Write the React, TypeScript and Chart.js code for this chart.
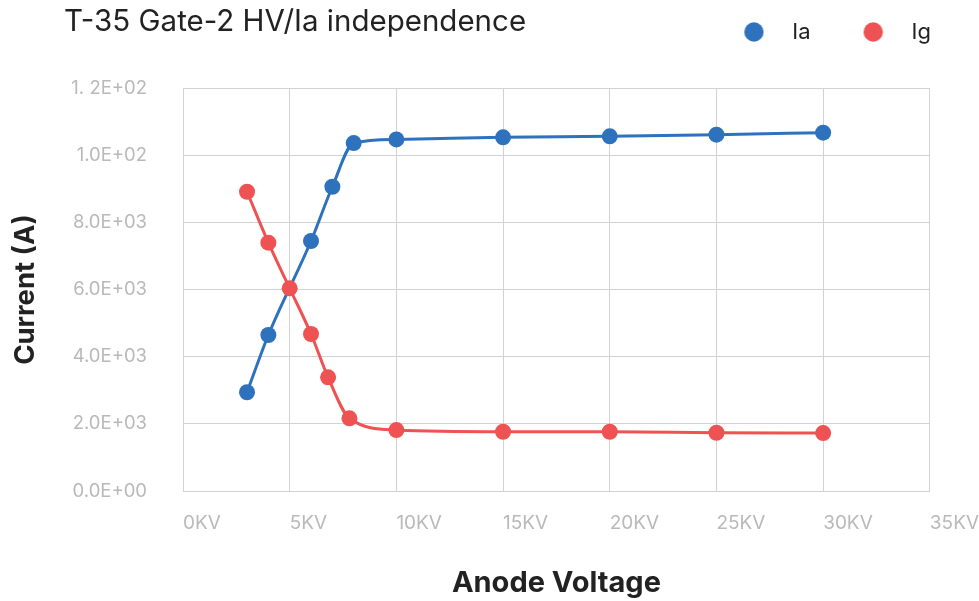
import React, { useEffect, useRef } from 'react';
import { Chart, registerables } from 'chart.js';

Chart.register(...registerables);

const chartTitle = 'T-35 Gate-2 HV/Ia independence';
const seriesNames = ['Ia', 'Ig'];
const iaVoltage = [3, 4, 6, 7, 8, 10, 15, 20, 25, 30];
const iaCurrent = [2940, 4645, 7445, 9060, 10360, 10470, 10530, 10560, 10610, 10670];
const igVoltage = [3, 4, 5, 6, 6.8, 7.8, 10, 15, 20, 25, 30];
const igCurrent = [8910, 7395, 6035, 4675, 3385, 2165, 1815, 1765, 1765, 1735, 1725];
const xTickLabels = ['0KV', '5KV', '10KV', '15KV', '20KV', '25KV', '30KV', '35KV'];
const yTickLabels = ['0.0E+00', '2.0E+03', '4.0E+03', '6.0E+03', '8.0E+03', '1.0E+02', '1. 2E+02'];
const xAxisTitle = 'Anode Voltage';
const yAxisTitle = 'Current (A)';

const BLUE = '#2e72bd';
const RED = '#ef5252';
const GRID = '#d2d2d2';
const TICK = '#b9b9b9';
const TEXT = '#222222';
const FONT = 'Inter';

function makeLegendDot(color: string): HTMLCanvasElement {
  const c = document.createElement('canvas');
  c.width = 46;
  c.height = 22;
  const ctx = c.getContext('2d')!;
  ctx.fillStyle = color;
  ctx.beginPath();
  ctx.arc(35.6, 11, 9.7, 0, Math.PI * 2);
  ctx.fill();
  return c;
}

export default function App() {
  const canvasRef = useRef<HTMLCanvasElement | null>(null);

  useEffect(() => {
    document.body.style.margin = '0';
    const canvas = canvasRef.current;
    if (!canvas) return;

    const dots = [makeLegendDot(BLUE), makeLegendDot(RED)];

    const legendHeightPlugin = {
      id: 'legendHeight',
      beforeInit(chart: any) {
        const legend = chart.legend;
        if (!legend) return;
        const orig = legend.fit;
        legend.fit = function () {
          orig.call(this);
          this.height = 77;
        };
      },
    };

    const titlePlugin = {
      id: 'leftTitle',
      afterDraw(chart: any) {
        const ctx = chart.ctx;
        ctx.save();
        ctx.font = `29.5px ${FONT}`;
        ctx.fillStyle = TEXT;
        ctx.textAlign = 'left';
        ctx.textBaseline = 'alphabetic';
        ctx.fillText(chartTitle, 64, 31);
        ctx.restore();
      },
    };

    const chart = new Chart(canvas, {
      type: 'line',
      data: {
        datasets: [
          {
            label: seriesNames[0],
            data: iaVoltage.map((x, i) => ({ x, y: iaCurrent[i] })),
            borderColor: BLUE,
            backgroundColor: BLUE,
            borderWidth: 3,
            pointRadius: 8,
            pointHoverRadius: 8,
            pointBorderWidth: 0,
            cubicInterpolationMode: 'monotone',
            order: 2,
          },
          {
            label: seriesNames[1],
            data: igVoltage.map((x, i) => ({ x, y: igCurrent[i] })),
            borderColor: RED,
            backgroundColor: RED,
            borderWidth: 3,
            pointRadius: 8,
            pointHoverRadius: 8,
            pointBorderWidth: 0,
            cubicInterpolationMode: 'monotone',
            order: 1,
          },
        ],
      },
      options: {
        responsive: false,
        animation: false,
        layout: { padding: { top: 11, right: 38, left: 0, bottom: 0 } },
        plugins: {
          tooltip: { enabled: false },
          title: { display: false },
          legend: {
            position: 'top',
            align: 'end',
            labels: {
              usePointStyle: true,
              pointStyleWidth: 80,
              boxHeight: 22,
              padding: 10,
              color: TEXT,
              font: { family: FONT, size: 22 },
              sort: (a: any, b: any) => a.datasetIndex - b.datasetIndex,
              generateLabels(c: any) {
                const items = (Chart.defaults.plugins.legend.labels as any).generateLabels(c);
                return items.map((it: any) => ({ ...it, pointStyle: dots[it.datasetIndex] }));
              },
            },
          },
        },
        scales: {
          x: {
            type: 'linear',
            min: 0,
            max: 35,
            ticks: {
              stepSize: 5,
              align: 'start',
              padding: 0,
              maxRotation: 0,
              autoSkip: false,
              color: TICK,
              font: { family: FONT, size: 19 },
              callback: (v: any) => xTickLabels[Math.round(Number(v) / 5)],
            },
            grid: { color: GRID, drawTicks: true, tickLength: 21, tickColor: 'transparent' },
            border: { color: GRID },
            title: {
              display: true,
              text: xAxisTitle,
              color: TEXT,
              font: { family: FONT, size: 29, weight: 'bold' },
              padding: { top: 30, bottom: 0 },
            },
            afterFit(scale: any) {
              scale.height = 110;
            },
          },
          y: {
            type: 'linear',
            min: 0,
            max: 12000,
            ticks: {
              stepSize: 2000,
              padding: 36,
              color: TICK,
              font: { family: FONT, size: 18.5 },
              callback: (v: any) => yTickLabels[Math.round(Number(v) / 2000)],
            },
            grid: { color: GRID, drawTicks: false },
            border: { color: GRID },
            title: {
              display: true,
              text: yAxisTitle,
              color: TEXT,
              font: { family: FONT, size: 27.5, weight: 'bold' },
              padding: { top: 9, bottom: 10 },
            },
            afterFit(scale: any) {
              scale.width = 183;
            },
          },
        },
      },
      plugins: [legendHeightPlugin, titlePlugin],
    } as any);

    return () => {
      chart.destroy();
    };
  }, []);

  return <canvas ref={canvasRef} width={979} height={601} style={{ display: 'block' }} />;
}
